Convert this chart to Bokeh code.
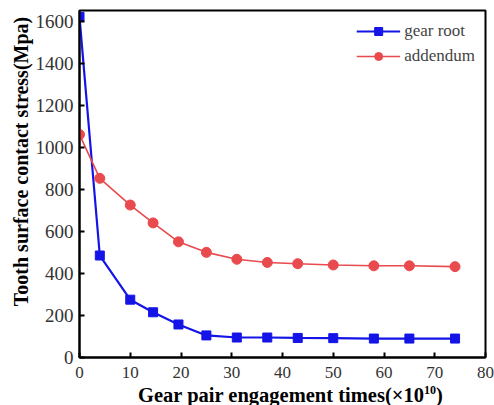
from bokeh.plotting import figure
from bokeh.embed import file_html
from bokeh.resources import INLINE
from bokeh.models import Range1d, FixedTicker, Legend, LegendItem, Div
from bokeh.layouts import column

x_vals = [0, 4, 10, 14.5, 19.5, 25, 31, 37, 43, 50, 58, 65, 74]
gear_root = [1620, 485, 275, 215, 157, 105, 95, 95, 93, 92, 90, 90, 90]
addendum = [1060, 852, 725, 640, 550, 500, 467, 452, 446, 440, 436, 436, 432]
x_ticks = [0, 10, 20, 30, 40, 50, 60, 70, 80]
y_ticks = [0, 200, 400, 600, 800, 1000, 1200, 1400, 1600]

FONT = "Liberation Serif"

p = figure(width=494, height=385, output_backend="svg", toolbar_location=None,
           x_range=Range1d(0, 80), y_range=Range1d(0, 1650),
           min_border_left=79, min_border_right=9, min_border_top=10, min_border_bottom=28)
p.grid.visible = False
p.outline_line_color = "black"
p.outline_line_width = 2
p.background_fill_color = "white"
p.border_fill_color = "white"

blue = "#1414e6"
red = "#e84a4e"

l1 = p.line(x_vals, gear_root, line_color=blue, line_width=2.2)
m1 = p.scatter(x_vals, gear_root, marker="square", size=9, fill_color=blue, line_color=blue)
l2 = p.line(x_vals, addendum, line_color=red, line_width=1.6)
m2 = p.scatter(x_vals, addendum, marker="circle", size=10, fill_color=red, line_color=red)

for ax in (p.xaxis[0], p.yaxis[0]):
    ax.axis_line_width = 2
    ax.axis_line_color = "black"
    ax.major_tick_in = 5
    ax.major_tick_out = 0
    ax.major_tick_line_width = 2
    ax.minor_tick_line_color = None
    ax.major_label_text_font = FONT
    ax.major_label_text_color = "#333333"
    ax.axis_label_text_font = FONT
    ax.axis_label_text_font_style = "bold"
    ax.axis_label_text_font_size = "20px"
    ax.axis_label_text_color = "black"

p.xaxis[0].major_label_text_font_size = "17px"
p.yaxis[0].major_label_text_font_size = "19px"
p.xaxis[0].ticker = FixedTicker(ticks=x_ticks)
p.yaxis[0].ticker = FixedTicker(ticks=y_ticks)
p.yaxis[0].axis_label = "\u00a0" * 9 + "Tooth surface contact stress(Mpa)"
p.xaxis[0].major_label_standoff = 9
p.yaxis[0].major_label_standoff = 6
p.yaxis[0].axis_label_standoff = 1

legend = Legend(items=[LegendItem(label="gear root", renderers=[l1, m1]),
                       LegendItem(label="addendum", renderers=[l2, m2])],
                location="top_right")
legend.border_line_color = None
legend.background_fill_alpha = 0
legend.label_text_font = FONT
legend.label_text_font_size = "17px"
legend.glyph_width = 44
legend.label_height = 22
legend.spacing = 3
legend.padding = 4
legend.margin = 10
legend.label_standoff = 4
p.add_layout(legend)

xlabel = Div(
    text=('<div style="font-family:\'Liberation Serif\';font-weight:bold;font-size:20.5px;'
          'line-height:20px;padding-left:138px;white-space:nowrap;color:black">'
          'Gear pair engagement times(×10<sup style="font-size:12px;line-height:0">10</sup>)</div>'),
    width=494, height=20, margin=0)

layout = column(p, xlabel, spacing=0)

open("out.html", "w").write(file_html(layout, INLINE))
